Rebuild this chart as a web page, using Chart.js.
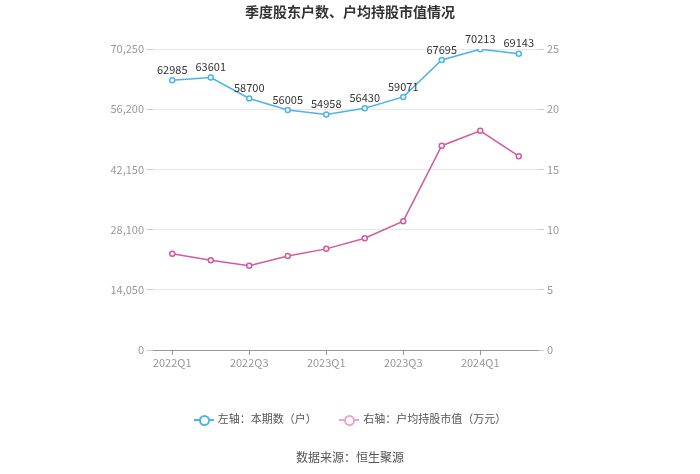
<!DOCTYPE html>
<html>
<head>
<meta charset="utf-8">
<script src="https://cdn.jsdelivr.net/npm/chart.js@4/dist/chart.umd.min.js"></script>
<style>
  body { margin: 0; background: #fff; font-family: "Noto Sans CJK SC", sans-serif; }
  #wrap { position: relative; width: 700px; height: 474px; }
  #title { position: absolute; top: 1px; left: 0; width: 700px; text-align: center;
           font-size: 14px; font-weight: bold; color: #333; }
  #legend { position: absolute; top: 408px; left: 0; width: 700px; text-align: center;
            font-size: 11px; color: #555; }
  .item { display: inline-block; margin: 0 10px; vertical-align: middle; }
  .mark { display: inline-block; position: relative; width: 20px; height: 10px; vertical-align: middle; margin-right: 4px; }
  .mark i { position: absolute; left: 0; top: 4px; width: 20px; height: 2px; }
  .mark b { position: absolute; left: 5px; top: 0; width: 7px; height: 7px; border-radius: 50%; background: #fff; border: 2px solid; }
  #source { position: absolute; top: 448px; left: 0; width: 700px; text-align: center;
            font-size: 12px; color: #555; }
</style>
</head>
<body>
<div id="wrap">
  <div id="title">季度股东户数、户均持股市值情况</div>
  <canvas id="chart" width="700" height="474"></canvas>
  <div id="legend">
    <span class="item"><span class="mark"><i style="background:#4db4e8"></i><b style="border-color:#4db4e8"></b></span>左轴：本期数（户）</span>
    <span class="item"><span class="mark"><i style="background:#e8a6cf"></i><b style="border-color:#e8a6cf"></b></span>右轴：户均持股市值（万元）</span>
  </div>
  <div id="source">数据来源：恒生聚源</div>
</div>
<script>
const quarters = ['2022Q1', '2022Q2', '2022Q3', '2022Q4', '2023Q1', '2023Q2', '2023Q3', '2023Q4', '2024Q1', '2024Q2'];
const holders = [62985, 63601, 58700, 56005, 54958, 56430, 59071, 67695, 70213, 69143];
const avgValue = [8.0, 7.45, 7.0, 7.8, 8.4, 9.28, 10.7, 16.97, 18.2, 16.1];
const leftTicks = [0, 14050, 28100, 42150, 56200, 70250];
const rightTicks = [0, 5, 10, 15, 20, 25];

const blue = '#4db4e8';
const pink = '#d45a9c';
const tickFont = { family: '"Noto Sans CJK SC", sans-serif', size: 11 };

// value labels above the holder line
const pointLabels = {
  id: 'pointLabels',
  afterDatasetsDraw(chart) {
    const ctx = chart.ctx;
    const meta = chart.getDatasetMeta(0);
    ctx.save();
    ctx.font = '11px "Noto Sans CJK SC", sans-serif';
    ctx.fillStyle = '#333';
    ctx.textAlign = 'center';
    ctx.textBaseline = 'bottom';
    meta.data.forEach((pt, i) => {
      ctx.fillText(String(holders[i]), pt.x, pt.y - 5);
    });
    ctx.restore();
  }
};

new Chart(document.getElementById('chart'), {
  type: 'line',
  data: {
    labels: quarters,
    datasets: [{
      label: '左轴：本期数（户）',
      data: holders,
      yAxisID: 'y',
      borderColor: blue,
      backgroundColor: '#fff',
      borderWidth: 1.5,
      pointRadius: 2.5,
      pointBorderWidth: 1.5,
      tension: 0
    }, {
      label: '右轴：户均持股市值（万元）',
      data: avgValue,
      yAxisID: 'y1',
      borderColor: pink,
      backgroundColor: '#fff',
      borderWidth: 1.5,
      pointRadius: 2.5,
      pointBorderWidth: 1.5,
      tension: 0
    }]
  },
  options: {
    responsive: false,
    animation: false,
    layout: { padding: { top: 49, left: 0, right: 0, bottom: 0 } },
    plugins: {
      legend: { display: false },
      title: { display: false },
      tooltip: { enabled: false }
    },
    scales: {
      x: {
        offset: true,
        grid: {
          drawOnChartArea: false,
          tickLength: 5,
          tickColor: c => (c.index % 2 === 0 ? '#999' : 'rgba(0,0,0,0)')
        },
        border: { color: '#999' },
        ticks: {
          color: '#999',
          font: tickFont,
          padding: 1,
          autoSkip: false,
          maxRotation: 0,
          callback: (v, i) => (i % 2 === 0 ? quarters[i] : '')
        },
        afterFit: s => { s.height = 124; }
      },
      y: {
        position: 'left',
        min: 0,
        max: 70250,
        afterBuildTicks: s => { s.ticks = leftTicks.map(v => ({ value: v })); },
        ticks: {
          color: '#999',
          font: tickFont,
          callback: v => v.toLocaleString('en-US')
        },
        grid: { color: '#e8e8e8', tickLength: 6, tickColor: '#ccc' },
        border: { display: false },
        afterFit: s => { s.width = 153; }
      },
      y1: {
        position: 'right',
        min: 0,
        max: 25,
        afterBuildTicks: s => { s.ticks = rightTicks.map(v => ({ value: v })); },
        ticks: { color: '#999', font: tickFont },
        grid: { drawOnChartArea: false, tickLength: 6, tickColor: '#ccc' },
        border: { display: false },
        afterFit: s => { s.width = 162; }
      }
    }
  },
  plugins: [pointLabels]
});
</script>
</body>
</html>
